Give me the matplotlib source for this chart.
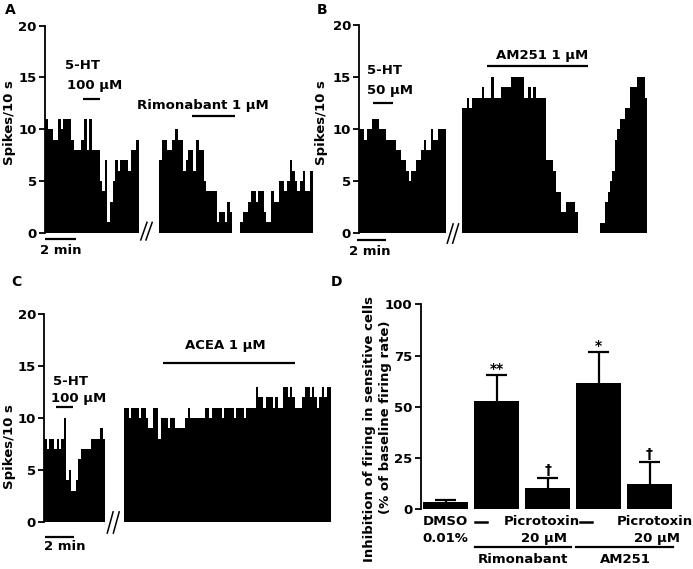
import numpy as np
import matplotlib
matplotlib.use("Agg")
import matplotlib.pyplot as plt

# spike counts per 10 s bin
a_before = [11, 10, 10, 9, 9, 11, 10, 11, 11, 11, 9, 8, 8, 8, 9, 11, 8, 11, 8, 8,
            8, 5, 4, 7, 1, 3, 5, 7, 6, 7, 7, 7, 6, 8, 8, 9]
a_after = [7, 9, 9, 8, 8, 9, 10, 9, 9, 6, 7, 8, 8, 6, 9, 8, 8, 5, 4, 4, 4, 4, 1, 2,
           2, 1, 3, 2, 0, 0, 0, 1, 2, 2, 3, 4, 4, 3, 4, 4, 2, 1, 1, 4, 3, 3, 5, 5,
           4, 5, 7, 6, 5, 4, 5, 6, 4, 4, 6]
b_before = [10, 10, 9, 10, 10, 11, 11, 11, 10, 10, 10, 9, 9, 9, 9, 8, 8, 7, 7, 6,
            5, 6, 6, 7, 7, 8, 9, 8, 8, 10, 9, 9, 10, 10, 10]
b_after = [12, 12, 13, 12, 13, 13, 13, 13, 14, 13, 13, 13, 15, 13, 13, 13, 14, 14,
           14, 14, 15, 15, 15, 15, 15, 13, 13, 14, 13, 14, 13, 13, 13, 13, 7, 7, 7,
           6, 4, 4, 2, 2, 3, 3, 3, 3, 2, 0, 0, 0, 0, 0, 0, 0, 0, 0, 1, 1, 3, 4, 5,
           6, 9, 10, 11, 11, 12, 12, 14, 14, 14, 15, 15, 15, 13]
c_before = [8, 7, 8, 8, 7, 8, 7, 8, 10, 4, 5, 3, 3, 4, 6, 7, 7, 7, 7, 8, 8, 8, 8,
            9, 8]
c_after = [11, 11, 10, 11, 11, 11, 10, 11, 11, 10, 9, 9, 11, 11, 8, 10, 10, 10, 9,
           10, 10, 9, 9, 9, 9, 10, 11, 10, 10, 10, 10, 10, 10, 11, 11, 10, 11, 11,
           11, 11, 10, 11, 11, 11, 11, 10, 11, 11, 11, 10, 11, 11, 11, 11, 13, 12,
           12, 11, 12, 12, 12, 11, 12, 11, 11, 13, 13, 12, 13, 12, 11, 11, 11, 12,
           13, 13, 12, 13, 12, 11, 12, 13, 12, 13, 13]

# panel D: mean inhibition (%) and SEM
d_means = [3.4, 53, 10.2, 61.8, 12.4]
d_sem = [1.1, 12.5, 4.9, 14.9, 10.5]
d_marks = ["", "**", "\u2020", "*", "\u2020"]

plt.rcParams["font.family"] = "DejaVu Sans"
plt.rcParams["font.weight"] = "bold"
plt.rcParams["font.size"] = 9.5

W, H = 693, 569
fig = plt.figure(figsize=(W / 100, H / 100), dpi=100)


def box(left, top, right, bottom):
    # pixel box -> figure fraction
    return [left / W, 1 - bottom / H, (right - left) / W, (bottom - top) / H]


def trace_axes(rect, xmax):
    ax = fig.add_axes(rect)
    ax.set_xlim(0, xmax)
    ax.set_ylim(0, 20)
    ax.set_yticks([0, 5, 10, 15, 20])
    ax.set_xticks([])
    for s in ["top", "right", "bottom"]:
        ax.spines[s].set_visible(False)
    ax.spines["left"].set_linewidth(1.3)
    ax.tick_params(axis="y", direction="out", length=4, width=1.3, pad=2)
    return ax


def trace(ax, start, vals):
    x = start + np.arange(len(vals))
    ax.bar(x, vals, width=1.0, align="edge", color="black", linewidth=0)


def drug(ax, x0, x1, y):
    ax.plot([x0, x1], [y, y], color="black", lw=1.6, clip_on=False,
            solid_capstyle="butt")


def brk(ax, x, y0, y1, dx):
    for off in (0, dx):
        ax.plot([x + off, x + off + 2.4], [y0, y1], color="black", lw=1.1,
                clip_on=False)


def scalebar(ax, x0, x1, y, tx, ty):
    drug(ax, x0, x1, y)
    ax.text(tx, ty, "2 min", ha="center", va="center")


# ---- A ----
axA = trace_axes(box(45, 25.7, 313, 232.7), 103)
trace(axA, 0, a_before)
trace(axA, 44, a_after)
drug(axA, 14.7, 21, 12.9)
drug(axA, 56.4, 73, 11.3)
axA.text(7.7, 16.2, "5-HT", ha="left", va="center")
axA.text(8.6, 14.2, "100 \u03bcM", ha="left", va="center")
axA.text(35.4, 12.3, "Rimonabant 1 \u03bcM", ha="left", va="center")
scalebar(axA, 0, 12, -0.65, 6.2, -1.75)
brk(axA, 36.8, -0.7, 1.0, 2.0)

# ---- B ----
axB = trace_axes(box(359.3, 25, 647.3, 233.3), 116.6)
trace(axB, 0, b_before)
trace(axB, 41.5, b_after)
drug(axB, 5.7, 13.5, 12.5)
drug(axB, 51.6, 92.7, 16.1)
axB.text(3.1, 15.6, "5-HT", ha="left", va="center")
axB.text(3.1, 13.7, "50 \u03bcM", ha="left", va="center")
axB.text(92.6, 17.1, "AM251 1 \u03bcM", ha="right", va="center")
scalebar(axB, -1, 11, -0.65, 4.3, -1.75)
brk(axB, 35.6, -0.95, 0.9, 2.2)

# ---- C ----
axC = trace_axes(box(44.3, 314.3, 331.5, 521.7), 117.7)
trace(axC, 0, c_before)
trace(axC, 32.7, c_after)
drug(axC, 4.8, 11.9, 11.1)
drug(axC, 48.8, 102.8, 15.3)
axC.text(3.6, 13.5, "5-HT", ha="left", va="center")
axC.text(2.6, 11.9, "100 \u03bcM", ha="left", va="center")
axC.text(74, 17.0, "ACEA 1 \u03bcM", ha="center", va="center")
scalebar(axC, 0.3, 12.2, -1.5, 8.5, -2.4)
brk(axC, 25.8, -1.1, 0.95, 2.5)

fig.text(9.5 / W, 1 - 122.5 / H, "Spikes/10 s", rotation=90, ha="center",
         va="center")
fig.text(322 / W, 1 - 122.5 / H, "Spikes/10 s", rotation=90, ha="center",
         va="center")
fig.text(9.2 / W, 1 - 446.7 / H, "Spikes/10 s", rotation=90, ha="center",
         va="center")

# ---- D ----
axD = fig.add_axes(box(420.7, 304.3, 675, 509.3))
xpos = np.arange(len(d_means))
tops = np.array(d_means) + np.array(d_sem)
axD.bar(xpos, d_means, width=0.88, color="black", linewidth=0)
# upper error bars only
axD.vlines(xpos, d_means, tops, color="black", lw=1.6)
axD.hlines(tops, xpos - 0.2, xpos + 0.2, color="black", lw=1.6)
for i, m in enumerate(d_marks):
    if m.startswith("*"):
        axD.text(i, tops[i] + 1.0, m, ha="center", va="baseline", fontsize=10)
    elif m:
        axD.text(i, tops[i] + 2, m, ha="center", va="baseline", fontsize=10)
axD.set_xlim(-0.49, 4.5)
axD.set_ylim(0, 100)
axD.set_yticks([0, 25, 50, 75, 100])
axD.set_xticks([])
for s in ["top", "right", "bottom"]:
    axD.spines[s].set_visible(False)
axD.spines["left"].set_linewidth(1.3)
axD.tick_params(axis="y", direction="out", length=4, width=1.3, pad=2)

ya, yb = -6.05, -14.1
axD.text(0, ya, "DMSO", ha="center", va="center", clip_on=False)
axD.text(0, yb, "0.01%", ha="center", va="center", clip_on=False)
for xd, xp, xl0, xl1, name, xn in [(0.69, 1.88, 0.58, 2.45, "Rimonabant", 1.51),
                                   (2.76, 4.10, 2.55, 4.46, "AM251", 3.52)]:
    axD.plot([xd - 0.12, xd + 0.12], [ya, ya], color="black", lw=1.8,
             clip_on=False)
    axD.text(xp, ya, "Picrotoxin", ha="center", va="center")
    axD.text(xp + 0.04, yb, "20 \u03bcM", ha="center", va="center")
    axD.plot([xl0, xl1], [-18.2, -18.2], color="black", lw=1.6, clip_on=False)
    axD.text(xn, -24.7, name, ha="center", va="center")

# two-line y label of panel D, each line placed on its own
fig.text(369.5 / W, 1 - 429 / H, "Inhibition of firing in sensitive cells",
         rotation=90, ha="center", va="center")
fig.text(385.5 / W, 1 - 417 / H, "(% of baseline firing rate)",
         rotation=90, ha="center", va="center")

# panel letters
for lab, px, py in [("A", 10, 10), ("B", 322.5, 10), ("C", 16.7, 281.7),
                    ("D", 336.7, 281.7)]:
    fig.text(px / W, 1 - py / H, lab, ha="center", va="center", fontsize=10)

fig.savefig("out.png", dpi=100)
